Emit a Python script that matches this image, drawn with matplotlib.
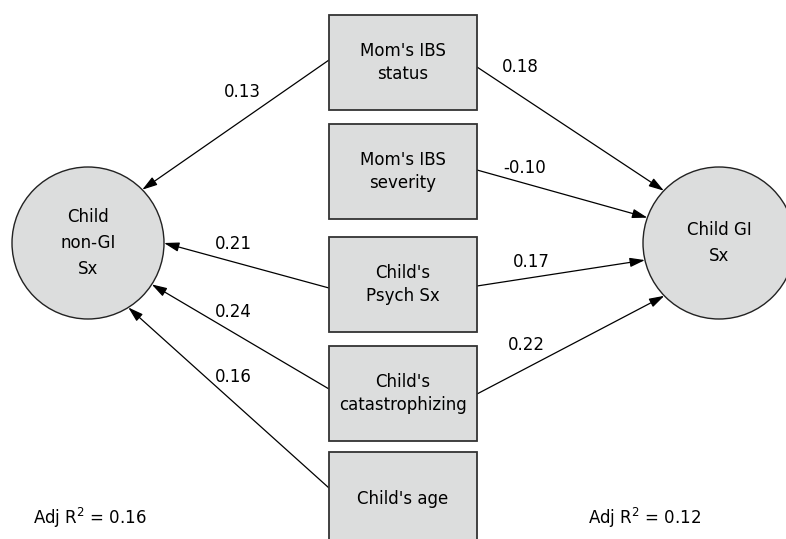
import numpy as np
import matplotlib
matplotlib.use('Agg')
import matplotlib.pyplot as plt
from matplotlib.patches import Rectangle, Circle

# ─── Data ─────────────────────────────────────────────────────────────────────
predictors   = ["Mom's IBS\nstatus", "Mom's IBS\nseverity", "Child's\nPsych Sx",
                "Child's\ncatastrophizing", "Child's age"]
outcomes     = ["Child\nnon-GI\nSx", "Child GI\nSx"]
coef_nongi   = ["0.13", None, "0.21", "0.24", "0.16"]
coef_gi      = ["0.18", "-0.10", "0.17", "0.22", None]
adj_r2       = ["0.16", "0.12"]

# ─── Layout (pixel space) ─────────────────────────────────────────────────────
W, H = 786, 539
BOX_X0, BOX_X1 = 329, 477
BOX_TOP = [15, 124, 237, 346, 452]
BOX_H = 95
CIRC = [(88, 243), (719, 243)]
R = 76

# where each edge leaves its box (y) and meets the circle (angle, deg)
left_start_y  = [60, None, 288, 389, 488]
left_end_ang  = [-44.5, None, 0, 33, 58]
right_start_y = [67, 170, 286, 394, None]
right_end_ang = [223.5, 199.5, 167, 136, None]

left_lbl  = [(242, 92), None, (233, 244), (233, 312), (233, 377)]
right_lbl = [(520, 67), (525, 168), (531, 262), (526, 345), None]

FILL = '#dcdddd'
FONT = 'DejaVu Sans'

fig = plt.figure(figsize=(W / 100, H / 100), dpi=100)
ax = fig.add_axes([0, 0, 1, 1])
ax.set_xlim(0, W)
ax.set_ylim(H, 0)
ax.axis('off')

# boxes
for top, name in zip(BOX_TOP, predictors):
    ax.add_patch(Rectangle((BOX_X0, top), BOX_X1 - BOX_X0, BOX_H,
                           facecolor=FILL, edgecolor='#333333', lw=1.3, zorder=2))
    ax.text((BOX_X0 + BOX_X1) / 2, top + BOX_H / 2, name, ha='center', va='center',
            fontsize=12, family=FONT, linespacing=1.4, zorder=3)

# circles
for (cx, cy), name in zip(CIRC, outcomes):
    ax.add_patch(Circle((cx, cy), R, facecolor=FILL, edgecolor='#222222',
                        lw=1.0, zorder=2))
    ax.text(cx, cy, name, ha='center', va='center', fontsize=12, family=FONT,
            linespacing=1.6, zorder=3)

arrow = dict(arrowstyle='-|>,head_length=0.65,head_width=0.2', color='black',
             lw=0.9, shrinkA=0, shrinkB=0, mutation_scale=14)

def draw_edges(xstart, starts, angs, coefs, lbls, center):
    cx, cy = center
    for sy, a, c, pos in zip(starts, angs, coefs, lbls):
        if c is None:
            continue
        ex = cx + R * np.cos(np.radians(a))
        ey = cy + R * np.sin(np.radians(a))
        ax.annotate('', xy=(ex, ey), xytext=(xstart, sy), arrowprops=arrow, zorder=1)
        ax.text(pos[0], pos[1], c, ha='center', va='center', fontsize=12, family=FONT)

draw_edges(BOX_X0, left_start_y, left_end_ang, coef_nongi, left_lbl, CIRC[0])
draw_edges(BOX_X1, right_start_y, right_end_ang, coef_gi, right_lbl, CIRC[1])

ax.text(33, 518, r'Adj R$^2$ = ' + adj_r2[0], ha='left', va='center',
        fontsize=12, family=FONT)
ax.text(588, 518, r'Adj R$^2$ = ' + adj_r2[1], ha='left', va='center',
        fontsize=12, family=FONT)

fig.savefig('out.png', dpi=100)
